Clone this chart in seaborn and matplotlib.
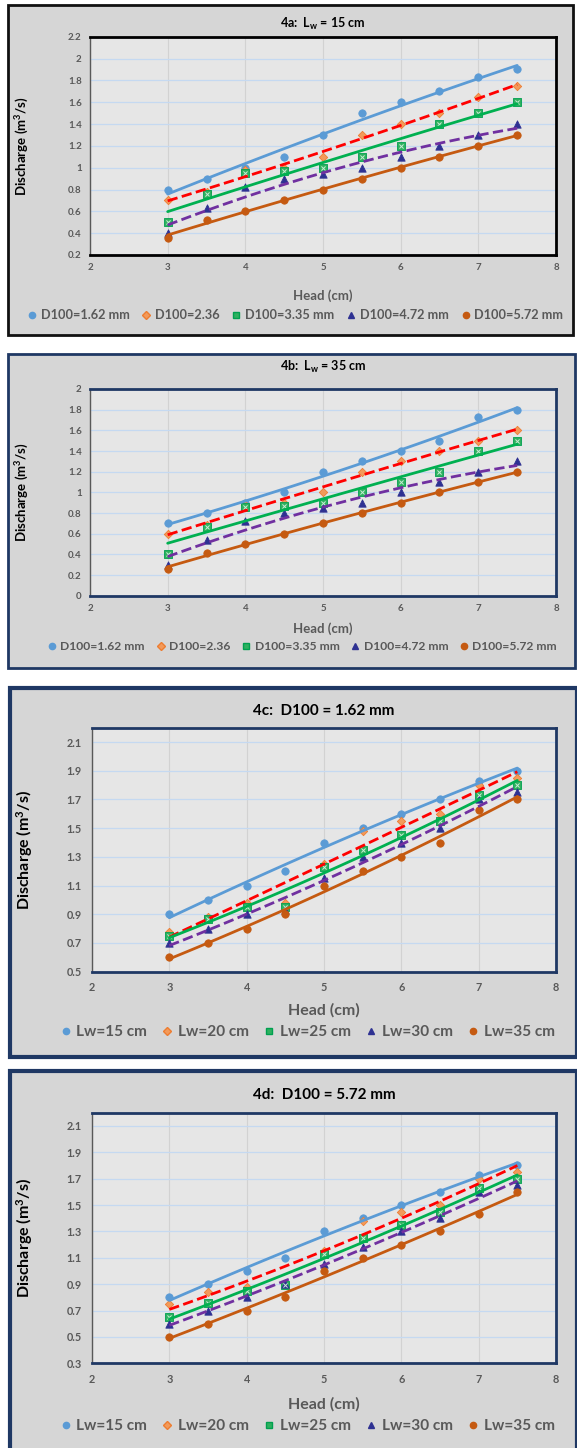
import matplotlib
matplotlib.use("Agg")
import numpy as np
import pandas as pd
import matplotlib.pyplot as plt
import seaborn as sns
from matplotlib.patches import Rectangle
from matplotlib.lines import Line2D

W, H = 577, 1448

# ---- data ----
head = [3, 3.5, 4, 4.5, 5, 5.5, 6, 6.5, 7, 7.5]

# 4a: Lw = 15 cm
a_162 = [0.80, 0.90, 1.00, 1.10, 1.30, 1.50, 1.60, 1.70, 1.83, 1.90]
a_236 = [0.70, 0.78, 0.98, 1.00, 1.10, 1.30, 1.40, 1.50, 1.65, 1.75]
a_335 = [0.50, 0.76, 0.95, 0.97, 1.00, 1.10, 1.20, 1.40, 1.50, 1.60]
a_472 = [0.40, 0.63, 0.82, 0.90, 0.94, 1.00, 1.10, 1.20, 1.30, 1.40]
a_572 = [0.36, 0.52, 0.60, 0.70, 0.80, 0.90, 1.00, 1.10, 1.20, 1.30]

# 4b: Lw = 35 cm
b_162 = [0.70, 0.80, 0.90, 1.00, 1.20, 1.30, 1.40, 1.50, 1.73, 1.80]
b_236 = [0.60, 0.68, 0.88, 0.90, 1.00, 1.20, 1.30, 1.40, 1.50, 1.60]
b_335 = [0.40, 0.66, 0.86, 0.87, 0.90, 1.00, 1.10, 1.20, 1.40, 1.50]
b_472 = [0.30, 0.54, 0.72, 0.80, 0.85, 0.90, 1.00, 1.10, 1.20, 1.30]
b_572 = [0.26, 0.41, 0.50, 0.60, 0.70, 0.80, 0.90, 1.00, 1.10, 1.20]

# 4c: D100 = 1.62 mm
c_15 = [0.90, 1.00, 1.10, 1.20, 1.40, 1.50, 1.60, 1.70, 1.83, 1.90]
c_20 = [0.78, 0.88, 0.98, 0.98, 1.25, 1.48, 1.55, 1.60, 1.80, 1.85]
c_25 = [0.75, 0.87, 0.95, 0.95, 1.23, 1.35, 1.45, 1.55, 1.73, 1.80]
c_30 = [0.70, 0.80, 0.90, 0.93, 1.15, 1.30, 1.40, 1.50, 1.70, 1.75]
c_35 = [0.60, 0.70, 0.80, 0.90, 1.10, 1.20, 1.30, 1.40, 1.63, 1.70]

# 4d: D100 = 5.72 mm
d_15 = [0.80, 0.90, 1.00, 1.10, 1.30, 1.40, 1.50, 1.60, 1.73, 1.80]
d_20 = [0.75, 0.84, 0.88, 0.90, 1.15, 1.38, 1.45, 1.50, 1.70, 1.75]
d_25 = [0.65, 0.76, 0.85, 0.89, 1.13, 1.25, 1.35, 1.45, 1.63, 1.70]
d_30 = [0.60, 0.70, 0.80, 0.90, 1.05, 1.18, 1.30, 1.40, 1.60, 1.65]
d_35 = [0.50, 0.60, 0.70, 0.80, 1.00, 1.10, 1.20, 1.30, 1.43, 1.60]

grain_labels = ["D100=1.62 mm", "D100=2.36", "D100=3.35 mm", "D100=4.72 mm", "D100=5.72 mm"]
width_labels = ["Lw=15 cm", "Lw=20 cm", "Lw=25 cm", "Lw=30 cm", "Lw=35 cm"]

# marker / trendline styles, one per series position
markers = ["o", "D", "s", "^", "o"]
m_face = ["#5b9bd5", "#f39a5a", "#2fb15f", "#2e3192", "#c55a11"]
m_edge = ["#5b9bd5", "#ed7d31", "#00a050", "#2e3192", "#c55a11"]
line_col = ["#5b9bd5", "#ff0000", "#00b050", "#7030a0", "#c55a11"]
line_ls = ["-", "--", "-", "--", "-"]

panels = [
    dict(title="4a:  L$_\\mathregular{w}$ = 15 cm", series=[a_162, a_236, a_335, a_472, a_572],
         labels=grain_labels, ylim=(0.2, 2.2), yticks=np.arange(0.2, 2.21, 0.2),
         box=(8, 5, 573, 335), box_col="#111111", box_lw=2.0,
         ax=(90, 36.7, 556, 255), spine_col="#000000",
         title_y=24, xlab_y=289, ylab_x=31, leg_x=295, leg_y=315,
         fs_title=9, fs_lab=9.5, fs_tick=7, fs_leg=9.2, pad=6),
    dict(title="4b:  L$_\\mathregular{w}$ = 35 cm", series=[b_162, b_236, b_335, b_472, b_572],
         labels=grain_labels, ylim=(0, 2), yticks=np.arange(0, 2.01, 0.2),
         box=(8, 354, 575, 668), box_col="#1f3864", box_lw=2.0,
         ax=(90, 389, 556, 595.7), spine_col="#1f3864",
         title_y=367, xlab_y=622, ylab_x=31, leg_x=302, leg_y=647,
         fs_title=9, fs_lab=9.5, fs_tick=7, fs_leg=8.7, pad=6),
    dict(title="4c:  D100 = 1.62 mm", series=[c_15, c_20, c_25, c_30, c_35],
         labels=width_labels, ylim=(0.5, 2.2), yticks=np.arange(0.5, 2.11, 0.2),
         box=(10, 688, 577, 1057), box_col="#1f3864", box_lw=3.0,
         ax=(92, 727.7, 556, 971.7), spine_col="#1f3864",
         title_y=711, xlab_y=1003, ylab_x=35, leg_x=307, leg_y=1032,
         fs_title=11, fs_lab=11.5, fs_tick=7.8, fs_leg=11.1, pad=7.5),
    dict(title="4d:  D100 = 5.72 mm", series=[d_15, d_20, d_25, d_30, d_35],
         labels=width_labels, ylim=(0.3, 2.2), yticks=np.arange(0.3, 2.11, 0.2),
         box=(10, 1071, 577, 1455), box_col="#1f3864", box_lw=3.0,
         ax=(92, 1112.7, 556, 1363.3), spine_col="#1f3864",
         title_y=1095, xlab_y=1397, ylab_x=35, leg_x=307, leg_y=1426,
         fs_title=11, fs_lab=11.5, fs_tick=7.8, fs_leg=11.1, pad=7.5),
]

sns.set_style("white")
plt.rcParams["font.family"] = ["Lato", "DejaVu Sans"]
plt.rcParams["mathtext.fontset"] = "custom"
plt.rcParams["mathtext.rm"] = "Lato:bold"
plt.rcParams["mathtext.it"] = "Lato:bold"

fig = plt.figure(figsize=(W / 100, H / 100), dpi=100)
fig.patch.set_facecolor("white")


def fx(px):
    return px / W


def fy(py):
    return 1 - py / H


for p in panels:
    # outer chart area
    x0, y0, x1, y1 = p["box"]
    fig.add_artist(Rectangle((fx(x0), fy(y1)), (x1 - x0) / W, (y1 - y0) / H,
                             transform=fig.transFigure, facecolor="#d6d6d6",
                             edgecolor=p["box_col"], linewidth=p["box_lw"], zorder=0))

    ax0, ay0, ax1, ay1 = p["ax"]
    ax = fig.add_axes([fx(ax0), fy(ay1), (ax1 - ax0) / W, (ay1 - ay0) / H])
    ax.set_facecolor("#e6e6e6")

    df = pd.DataFrame({
        "head": np.tile(head, 5),
        "Q": np.concatenate(p["series"]),
        "series": np.repeat(p["labels"], len(head)),
    })

    # points
    for i, lab in enumerate(p["labels"]):
        sub = df[df["series"] == lab]
        sns.scatterplot(data=sub, x="head", y="Q", marker=markers[i], s=28 if i != 1 else 18,
                        color=m_face[i], edgecolor=m_edge[i], linewidth=0.6,
                        legend=False, ax=ax, zorder=3)
        if i == 2:
            sns.scatterplot(data=sub, x="head", y="Q", marker="x", s=9, color="#c8ecd4",
                            linewidth=0.7, legend=False, ax=ax, zorder=4)

    # trendlines (2nd order fit)
    for i, lab in enumerate(p["labels"]):
        sub = df[df["series"] == lab]
        sns.regplot(data=sub, x="head", y="Q", order=2, ci=None, scatter=False, truncate=True,
                    line_kws=dict(color=line_col[i], ls=line_ls[i], lw=2.0, zorder=5), ax=ax)

    ax.set_xlim(2, 8)
    ax.set_ylim(*p["ylim"])
    ax.set_xticks(range(2, 9))
    ax.set_yticks(p["yticks"])
    ax.set_yticklabels([f"{v:g}" for v in np.round(p["yticks"], 2)])
    ax.grid(True, axis="y", color="#c5d9f1", lw=0.9)
    ax.grid(True, axis="x", color="#d2d2d2", lw=0.8)
    ax.set_axisbelow(True)
    ax.tick_params(length=0, labelsize=p["fs_tick"], labelcolor="#595959", pad=p["pad"])
    for t in ax.get_xticklabels() + ax.get_yticklabels():
        t.set_fontweight("bold")

    for side in ["top", "right", "bottom"]:
        ax.spines[side].set_color(p["spine_col"])
        ax.spines[side].set_linewidth(2.0)
    ax.spines["left"].set_color("#595959")
    ax.spines["left"].set_linewidth(1.0)

    ax.set_xlabel("Head (cm)", fontsize=p["fs_lab"], fontweight="bold", color="#595959")
    ax.xaxis.set_label_coords(fx((ax0 + ax1) / 2), fy(p["xlab_y"]), transform=fig.transFigure)
    ax.set_ylabel("Discharge (m$^\\mathregular{3}$/s)", fontsize=p["fs_lab"], fontweight="bold", color="black")
    ax.yaxis.set_label_coords(fx(p["ylab_x"]), fy((ay0 + ay1) / 2), transform=fig.transFigure)

    fig.text(fx((ax0 + ax1) / 2), fy(p["title_y"]), p["title"], ha="center", va="center",
             fontsize=p["fs_title"], fontweight="bold", color="black")

    handles = [Line2D([], [], ls="none", marker=markers[i], markersize=4.5 if i != 1 else 3.8,
                      markerfacecolor=m_face[i], markeredgecolor=m_edge[i])
               for i in range(5)]
    leg = ax.legend(handles, p["labels"], loc="center", ncol=5, frameon=False,
                    bbox_to_anchor=(fx(p["leg_x"]), fy(p["leg_y"])), bbox_transform=fig.transFigure,
                    handlelength=0.8, handletextpad=0.3, columnspacing=0.9,
                    prop=dict(size=p["fs_leg"], weight="bold"))
    for t in leg.get_texts():
        t.set_color("#595959")

fig.savefig("out.png", dpi=100)
